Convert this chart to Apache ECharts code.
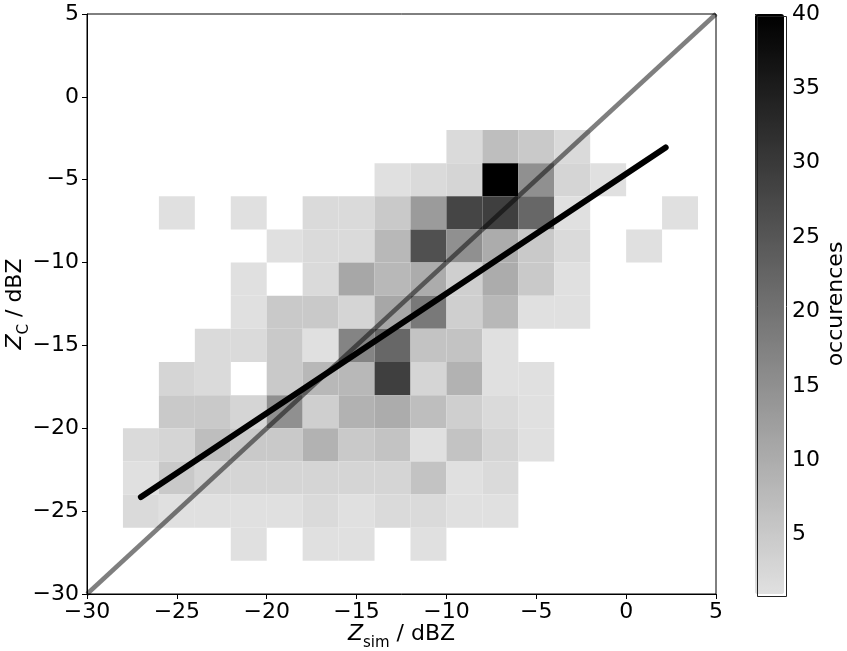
<!DOCTYPE html>
<html>
<head>
<meta charset="utf-8">
<script src="https://cdn.jsdelivr.net/npm/echarts@6/dist/echarts.min.js"></script>
<style>
html,body{margin:0;padding:0;background:#fff;}
#chart{width:847px;height:651px;}
</style>
</head>
<body>
<div id="chart"></div>
<script>
// ---- data ----
const binWidth = 2;
const xBinLeft = [-28,-26,-24,-22,-20,-18,-16,-14,-12,-10,-8,-6,-4,-2,0,2];
const yBinBottom = [-4,-6,-8,-10,-12,-14,-16,-18,-20,-22,-24,-26,-28];
const counts = [
  [0,0,0,0,0,0,0,0,0,2,7,5,2,0,0,0],
  [0,0,0,0,0,0,0,1,2,3,40,15,3,1,0,0],
  [0,1,0,1,0,2,2,5,13,28,29,22,1,0,0,1],
  [0,0,0,0,1,2,2,8,26,15,10,5,2,0,1,0],
  [0,0,0,1,0,2,11,8,10,4,10,5,1,0,0,0],
  [0,0,0,1,5,5,3,11,19,4,8,1,1,0,0,0],
  [0,0,2,2,5,1,17,22,6,6,1,0,0,0,0,0],
  [0,3,2,0,5,8,8,29,3,9,1,1,0,0,0,0],
  [0,5,5,3,15,4,9,10,7,4,2,1,0,0,0,0],
  [2,3,7,5,5,9,5,6,1,6,3,1,0,0,0,0],
  [1,5,3,3,3,3,3,3,6,1,2,0,0,0,0,0],
  [2,1,1,1,1,2,1,2,2,1,1,0,0,0,0,0],
  [0,0,0,1,0,1,1,0,1,0,0,0,0,0,0,0]
];
const oneToOneLine = [[-30,-30],[5,5]];
const fitLine = [[-27,-24.15],[2.2,-3.05]];
const colorbarTicks = [5,10,15,20,25,30,35,40];
const countMin = 1, countMax = 40;

// ---- build ----
const cells = [];
yBinBottom.forEach((yb, r) => {
  xBinLeft.forEach((xl, c) => {
    const v = counts[r][c];
    if (v > 0) cells.push([xl, yb, v]);
  });
});

const FONT = 'DejaVu Sans';
const minusFmt = v => String(v).replace('-', '\u2212');
const richName = {
  i: {fontSize: 22, fontFamily: FONT, fontStyle: 'italic', color:'#000', verticalAlign: 'bottom', padding: [0,0,6,0]},
  n: {fontSize: 22, fontFamily: FONT, color:'#000', verticalAlign: 'bottom', padding: [0,0,6,0]},
  s: {fontSize: 15, fontFamily: FONT, color:'#000', verticalAlign: 'bottom'}
};

const chart = echarts.init(document.getElementById('chart'), null, {renderer:'canvas'});
chart.setOption({
  animation: false,
  backgroundColor: '#ffffff',
  textStyle: {fontFamily: FONT},
  grid: [
    {left: 87, top: 14, width: 629, height: 580, show: true, borderColor: '#000', borderWidth: 1,
     backgroundColor: 'transparent', containLabel: false, outerBoundsMode: 'none'},
    {left: 755, top: 14, width: 29, height: 580, show: false, containLabel: false, outerBoundsMode: 'none'}
  ],
  xAxis: [
    {
      type: 'value', gridIndex: 0, min: -30, max: 5, interval: 5,
      splitLine: {show: false},
      axisLine: {show: true, onZero: false, lineStyle: {color: '#000', width: 1}},
      axisTick: {show: true, length: 5, lineStyle: {color: '#000'}},
      axisLabel: {fontSize: 22, color: '#000', fontFamily: FONT, margin: 7, formatter: minusFmt},
      name: '{i|Z}{s|sim}{n| / dBZ}',
      nameLocation: 'middle', nameGap: 29, nameMoveOverlap: false,
      nameTextStyle: {fontSize: 22, color: '#000', fontFamily: FONT, rich: richName}
    },
    {type: 'value', gridIndex: 1, min: 0, max: 1, show: false}
  ],
  yAxis: [
    {
      type: 'value', gridIndex: 0, min: -30, max: 5, interval: 5,
      splitLine: {show: false},
      axisLine: {show: true, onZero: false, lineStyle: {color: '#000', width: 1}},
      axisTick: {show: true, length: 5, lineStyle: {color: '#000'}},
      axisLabel: {fontSize: 22, color: '#000', fontFamily: FONT, margin: 8, formatter: minusFmt},
      name: '{i|Z}{s|C}{n| / dBZ}',
      nameLocation: 'middle', nameGap: 55, nameRotate: 90, nameMoveOverlap: false,
      nameTextStyle: {fontSize: 22, color: '#000', fontFamily: FONT, rich: richName}
    },
    {
      type: 'value', gridIndex: 1, position: 'right', min: countMin, max: countMax,
      splitLine: {show: false},
      axisLine: {show: false},
      axisTick: {show: true, length: 5, lineStyle: {color: '#000'}, customValues: colorbarTicks},
      axisLabel: {fontSize: 22, color: '#000', fontFamily: FONT, margin: 8, customValues: colorbarTicks},
      name: 'occurences', nameLocation: 'middle', nameRotate: 90, nameGap: 41, nameMoveOverlap: false,
      nameTextStyle: {fontSize: 22, color: '#000', fontFamily: FONT}
    }
  ],
  visualMap: {
    type: 'continuous', min: countMin, max: countMax, dimension: 2, seriesIndex: 0,
    calculable: false, orient: 'vertical', left: 755, top: 14,
    itemWidth: 29, itemHeight: 580, padding: 0, text: null, hoverLink: false,
    inRange: {color: ['#e0e0e0', '#000000']}
  },
  graphic: [
    {type: 'rect', left: 755, top: 14, z: 100, silent: true,
     shape: {width: 29, height: 580}, style: {fill: 'none', stroke: '#222', lineWidth: 1}}
  ],
  series: [
    {
      type: 'custom', xAxisIndex: 0, yAxisIndex: 0,
      encode: {x: 0, y: 1},
      data: cells,
      renderItem: function (params, api) {
        const x0 = api.value(0), y0 = api.value(1);
        const p1 = api.coord([x0, y0 + binWidth]);
        const p2 = api.coord([x0 + binWidth, y0]);
        return {
          type: 'rect',
          shape: {x: p1[0], y: p1[1], width: p2[0] - p1[0], height: p2[1] - p1[1]},
          style: {fill: api.visual('color')}
        };
      },
      z: 1
    },
    {
      type: 'line', xAxisIndex: 0, yAxisIndex: 0, data: oneToOneLine,
      symbol: 'none', lineStyle: {color: 'rgba(0,0,0,0.5)', width: 4.5}, z: 3, silent: true
    },
    {
      type: 'line', xAxisIndex: 0, yAxisIndex: 0, data: fitLine,
      symbol: 'none', lineStyle: {color: '#000', width: 6, cap: 'round'}, z: 4, silent: true
    }
  ]
});
</script>
</body>
</html>
